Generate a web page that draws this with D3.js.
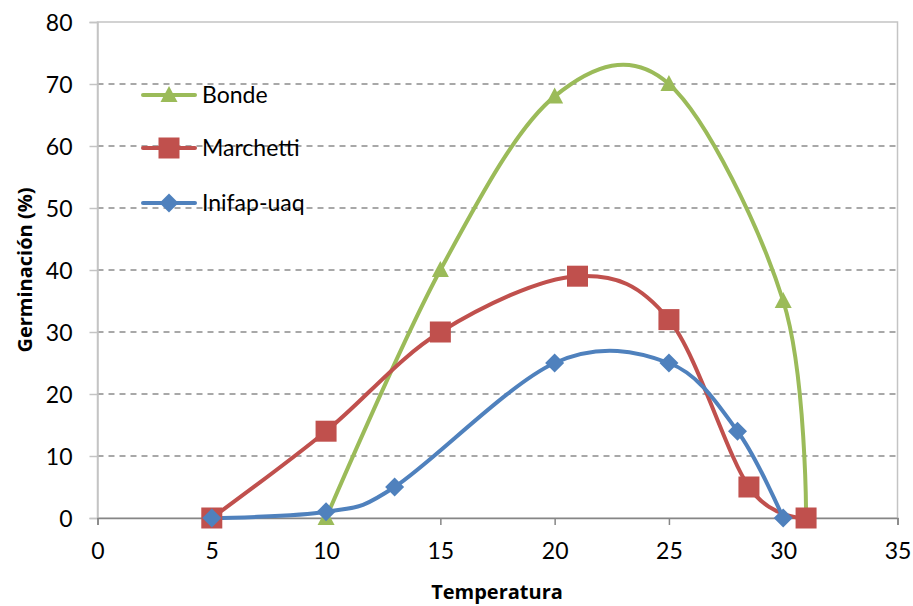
<!DOCTYPE html>
<html>
<head>
<meta charset="utf-8">
<script src="https://cdn.jsdelivr.net/npm/d3@7"></script>
<style>
  html, body { margin: 0; padding: 0; background: #fff; }
  svg { display: block; font-family: Lato, "Open Sans", sans-serif; }
</style>
</head>
<body>
<svg id="chart" width="913" height="606"></svg>
<script>
// Germination (%) against temperature for three varieties
const bondeTemp = [10, 15, 20, 25, 30, 31];
const bondeGerm = [0, 40, 68, 70, 35, 0];

const marchettiTemp = [5, 10, 15, 21, 25, 28.5, 31];
const marchettiGerm = [0, 14, 30, 39, 32, 5, 0];

const inifapTemp = [5, 10, 13, 20, 25, 28, 30];
const inifapGerm = [0, 1, 5, 25, 25, 14, 0];

const seriesNames = ["Bonde", "Marchetti", "Inifap-uaq"];
const seriesColors = ["#9BBB59", "#C0504D", "#4F81BD"];
const seriesShapes = ["triangle", "square", "diamond"];

const xTicks = [0, 5, 10, 15, 20, 25, 30, 35];
const yTicks = [0, 10, 20, 30, 40, 50, 60, 70, 80];

const xTitle = "Temperatura";
const yTitle = "Germinación (%)";

const series = [
  { name: seriesNames[0], color: seriesColors[0], shape: seriesShapes[0],
    pts: bondeTemp.map((t, i) => [t, bondeGerm[i]]) },
  { name: seriesNames[1], color: seriesColors[1], shape: seriesShapes[1],
    pts: marchettiTemp.map((t, i) => [t, marchettiGerm[i]]) },
  { name: seriesNames[2], color: seriesColors[2], shape: seriesShapes[2],
    pts: inifapTemp.map((t, i) => [t, inifapGerm[i]]) }
];

const svg = d3.select("#chart");
const plotLeft = 97.5, plotRight = 897.5, plotTop = 22, plotBottom = 518;

const x = d3.scaleLinear().domain([0, 35]).range([plotLeft, plotRight]);
const y = d3.scaleLinear().domain([0, 80]).range([plotBottom, plotTop]);

// plot-area frame
svg.append("rect")
  .attr("x", plotLeft).attr("y", plotTop)
  .attr("width", plotRight - plotLeft).attr("height", plotBottom - plotTop)
  .attr("fill", "none").attr("stroke", "#c4c4c4").attr("stroke-width", 1.5);

// dashed horizontal gridlines
svg.append("g")
  .selectAll("line")
  .data(yTicks.filter(v => v > 0 && v < 80))
  .join("line")
  .attr("x1", plotLeft).attr("x2", plotRight)
  .attr("y1", d => y(d)).attr("y2", d => y(d))
  .attr("stroke", "#8c8c8c").attr("stroke-width", 1.5)
  .attr("stroke-dasharray", "6,5");

// y axis
const yAxis = svg.append("g")
  .attr("transform", `translate(${plotLeft},0)`)
  .call(d3.axisLeft(y).tickValues(yTicks).tickSize(8).tickPadding(6).tickFormat(d3.format("d")));
yAxis.select(".domain").attr("stroke", "#c4c4c4").attr("stroke-width", 1.5);
yAxis.selectAll(".tick line").attr("stroke", "#c4c4c4").attr("stroke-width", 1.5);
yAxis.selectAll(".tick text")
  .attr("font-size", 23).attr("fill", "#000")
  .attr("font-family", "Lato, sans-serif")
  .attr("x", -25).attr("dy", "0.35em");

// x axis
const xAxis = svg.append("g")
  .attr("transform", `translate(0,${plotBottom})`)
  .call(d3.axisBottom(x).tickValues(xTicks).tickSize(7).tickPadding(8).tickFormat(d3.format("d")));
xAxis.select(".domain").attr("stroke", "#868686").attr("stroke-width", 1.5);
xAxis.selectAll(".tick line").attr("stroke", "#868686").attr("stroke-width", 1.5);
xAxis.selectAll(".tick text")
  .attr("font-size", 23).attr("fill", "#000")
  .attr("font-family", "Lato, sans-serif")
  .attr("y", 25).attr("dy", "0.71em");

// axis titles
svg.append("text")
  .attr("x", 497).attr("y", 599)
  .attr("text-anchor", "middle")
  .attr("font-family", "'Open Sans', sans-serif")
  .attr("font-size", 20).attr("font-weight", "bold")
  .text(xTitle);

svg.append("text")
  .attr("transform", "translate(32,270) rotate(-90)")
  .attr("text-anchor", "middle")
  .attr("font-family", "'Open Sans', sans-serif")
  .attr("font-size", 20).attr("font-weight", "bold")
  .text(yTitle);

// marker shapes
function marker(sel, shape, color) {
  if (shape === "triangle") {
    sel.append("path").attr("d", "M0,-9 L8.5,7 L-8.5,7 Z").attr("fill", color);
  } else if (shape === "square") {
    sel.append("rect").attr("x", -10.5).attr("y", -10.5)
      .attr("width", 21).attr("height", 21).attr("fill", color);
  } else {
    sel.append("path").attr("d", "M0,-9.5 L9.5,0 L0,9.5 L-9.5,0 Z").attr("fill", color);
  }
}

// smoothed series lines
const line = d3.line()
  .x(d => x(d[0])).y(d => y(d[1]))
  .curve(d3.curveCardinal.tension(0));

const order = [0, 1, 2];
order.forEach(i => {
  const s = series[i];
  svg.append("path")
    .datum(s.pts)
    .attr("d", line)
    .attr("fill", "none")
    .attr("stroke", s.color)
    .attr("stroke-width", 4)
    .attr("stroke-linecap", "round")
    .attr("stroke-linejoin", "round");
});
order.forEach(i => {
  const s = series[i];
  svg.append("g").selectAll("g")
    .data(s.pts)
    .join("g")
    .attr("transform", d => `translate(${x(d[0])},${y(d[1])})`)
    .each(function () { marker(d3.select(this), s.shape, s.color); });
});

// legend
const legendY = [95, 148, 203];
series.forEach((s, i) => {
  const g = svg.append("g").attr("transform", `translate(0,${legendY[i]})`);
  g.append("line")
    .attr("x1", 143).attr("x2", 195).attr("y1", 0).attr("y2", 0)
    .attr("stroke", s.color).attr("stroke-width", 4).attr("stroke-linecap", "round");
  const m = g.append("g").attr("transform", "translate(169,0)");
  marker(m, s.shape, s.color);
  g.append("text")
    .attr("x", 202).attr("y", 0).attr("dy", "0.36em")
    .attr("font-size", 23).attr("fill", "#000")
    .text(s.name);
});
</script>
</body>
</html>
